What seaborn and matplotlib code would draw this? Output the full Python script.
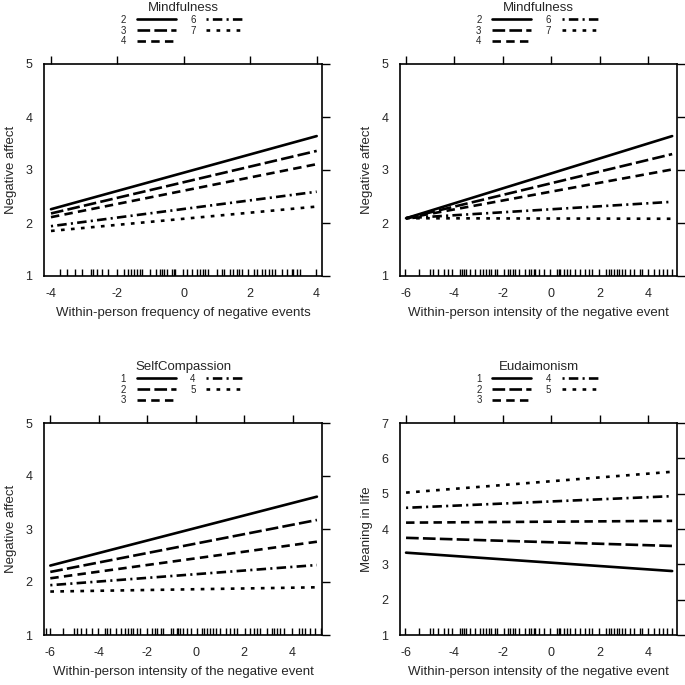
import numpy as np
import pandas as pd
import matplotlib
matplotlib.use("Agg")
import matplotlib.pyplot as plt
import seaborn as sns

sns.set_style("white")
plt.rcParams["font.family"] = ["Liberation Sans", "DejaVu Sans"]
plt.rcParams["axes.unicode_minus"] = False

# ---- data ----
freq_ends = [-4, 4]
int_ends = [-6, 5]

p1_levels = ["2", "3", "4", "6", "7"]
p1_left = [2.26, 2.18, 2.11, 1.94, 1.85]
p1_right = [3.64, 3.36, 3.11, 2.59, 2.31]

p2_levels = ["2", "3", "4", "6", "7"]
p2_left = [2.09, 2.09, 2.09, 2.09, 2.09]
p2_right = [3.64, 3.30, 3.01, 2.40, 2.08]

p3_levels = ["1", "2", "3", "4", "5"]
p3_left = [2.31, 2.19, 2.07, 1.94, 1.82]
p3_right = [3.61, 3.17, 2.76, 2.32, 1.90]

p4_levels = ["1", "2", "3", "4", "5"]
p4_left = [3.33, 3.75, 4.18, 4.60, 5.03]
p4_right = [2.81, 3.52, 4.23, 4.93, 5.62]

rug_freq = [-3.74, -3.52, -3.27, -3.07, -2.80, -2.72, -2.62, -2.47, -2.27, -2.02,
            -1.79, -1.69, -1.59, -1.51, -1.41, -1.33, -1.26, -1.01, -0.83, -0.73,
            -0.66, -0.59, -0.51, -0.36, -0.31, -0.26, -0.03, 0.09, 0.24, 0.39,
            0.49, 0.59, 0.64, 0.74, 0.99, 1.14, 1.21, 1.39, 1.49, 1.59, 1.67,
            1.74, 1.94, 2.10, 2.20, 2.35, 2.45, 2.55, 2.65, 2.75, 2.95, 3.10,
            3.25, 3.30, 3.40, 3.50, 3.98]

rug_int = [-6.04, -5.46, -5.01, -4.87, -4.66, -4.45, -4.27, -4.08, -3.76, -3.69,
           -3.62, -3.53, -3.35, -3.14, -2.96, -2.80, -2.70, -2.59, -2.49, -2.34,
           -2.24, -1.97, -1.80, -1.69, -1.59, -1.48, -1.35, -1.10, -0.93, -0.82,
           -0.72, -0.65, -0.52, -0.31, -0.03, 0.24, 0.31, 0.38, 0.52, 0.66, 0.77,
           1.00, 1.21, 1.39, 1.56, 1.69, 1.97, 2.25, 2.38, 2.49, 2.59, 2.70, 2.80,
           2.94, 3.05, 3.24, 3.42, 3.67, 3.77, 4.01, 4.25, 4.46, 4.62, 4.80, 5.01]

rug_int_sc = [-6.17, -6.00, -5.48, -5.03, -4.90, -4.72, -4.51, -4.30, -4.03, -3.75,
              -3.68, -3.54, -3.30, -3.10, -2.92, -2.79, -2.69, -2.58, -2.44, -2.30,
              -2.00, -1.82, -1.68, -1.59, -1.45, -1.34, -1.03, -0.92, -0.79, -0.72,
              -0.65, -0.54, -0.34, -0.21, 0.04, 0.25, 0.34, 0.46, 0.59, 0.73, 0.84,
              1.01, 1.26, 1.42, 1.56, 1.72, 2.04, 2.25, 2.41, 2.52, 2.66, 2.94, 3.14,
              3.24, 3.35, 3.49, 3.66, 3.97, 4.25, 4.39, 4.52, 4.73, 4.94, 5.17]

line_styles = [
    "-",
    (0, (4.8, 1.6)),
    (0, (3.2, 2.0)),
    (0, (0.8, 1.6, 3.6, 1.6)),
    (0, (1.4, 2.4)),
]

panels = [
    dict(pos=[44, 64, 322, 276], ends=freq_ends, levels=p1_levels, left=p1_left,
         right=p1_right, rug=rug_freq, title="Mindfulness",
         xlabel="Within-person frequency of negative events", ylabel="Negative affect",
         xlim=(-4.21, 4.16), ylim=(1, 5), xticks=[-4, -2, 0, 2, 4], yticks=[1, 2, 3, 4, 5]),
    dict(pos=[400, 64, 677, 276], ends=int_ends, levels=p2_levels, left=p2_left,
         right=p2_right, rug=rug_int, title="Mindfulness",
         xlabel="Within-person intensity of the negative event", ylabel="Negative affect",
         xlim=(-6.25, 5.2), ylim=(1, 5), xticks=[-6, -4, -2, 0, 2, 4], yticks=[1, 2, 3, 4, 5]),
    dict(pos=[44, 423, 322, 635], ends=int_ends, levels=p3_levels, left=p3_left,
         right=p3_right, rug=rug_int_sc, title="SelfCompassion",
         xlabel="Within-person intensity of the negative event", ylabel="Negative affect",
         xlim=(-6.26, 5.21), ylim=(1, 5), xticks=[-6, -4, -2, 0, 2, 4], yticks=[1, 2, 3, 4, 5]),
    dict(pos=[400, 423, 677, 635], ends=int_ends, levels=p4_levels, left=p4_left,
         right=p4_right, rug=rug_int, title="Eudaimonism",
         xlabel="Within-person intensity of the negative event", ylabel="Meaning in life",
         xlim=(-6.25, 5.2), ylim=(1, 7), xticks=[-6, -4, -2, 0, 2, 4],
         yticks=[1, 2, 3, 4, 5, 6, 7]),
]

W = H = 685
fig = plt.figure(figsize=(6.85, 6.85), dpi=100)

for p in panels:
    l, t, r, b = p["pos"]
    ax = fig.add_axes([l / W, 1 - b / H, (r - l) / W, (b - t) / H])
    for lev, y0, y1, ls in zip(p["levels"], p["left"], p["right"], line_styles):
        df = pd.DataFrame({"x": p["ends"], "y": [y0, y1]})
        sns.lineplot(data=df, x="x", y="y", ax=ax, color="black", lw=1.9,
                     linestyle=ls, label=lev, legend=False)
    sns.rugplot(x=p["rug"], ax=ax, height=0.033, color="black", lw=0.9)
    ax.set_xlim(*p["xlim"])
    ax.set_ylim(*p["ylim"])
    ax.set_xticks(p["xticks"])
    ax.set_yticks(p["yticks"])
    ax.set_xlabel(p["xlabel"], fontsize=9.5, labelpad=5)
    ax.set_ylabel(p["ylabel"], fontsize=9.5, labelpad=6)
    ax.tick_params(direction="out", length=5.5, width=1.0, top=True, right=True,
                   labeltop=False, labelright=False, labelsize=9, pad=3, color="black")
    for s in ax.spines.values():
        s.set_linewidth(1.2)
        s.set_color("black")
    lines = ax.get_lines()[:5]
    ax.legend(handles=lines, labels=p["levels"], ncol=2, title=p["title"],
              loc="lower center", bbox_to_anchor=(0.5, 1.06), frameon=False,
              fontsize=7, title_fontsize=9.5, markerfirst=False,
              handlelength=4.0, handletextpad=1.1, columnspacing=1.5,
              labelspacing=0.08, borderpad=0.0)

fig.savefig("out.png", dpi=100, facecolor="white")
